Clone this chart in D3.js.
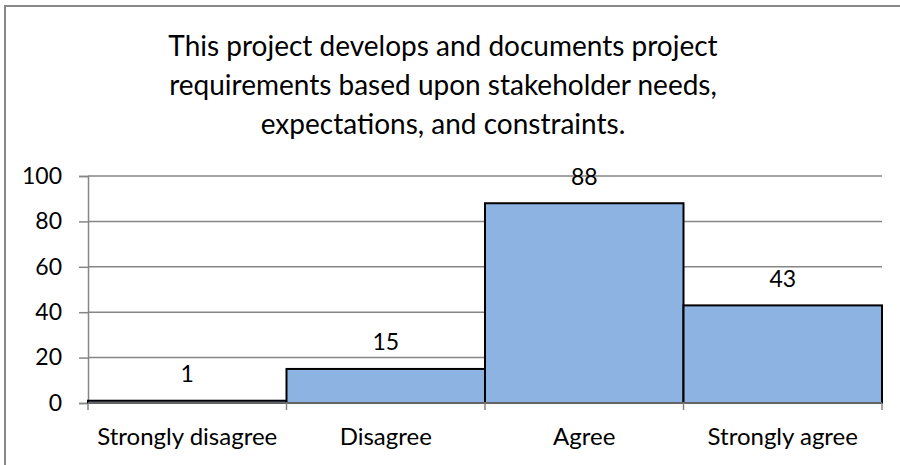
<!DOCTYPE html>
<html>
<head>
<meta charset="utf-8">
<script src="https://cdn.jsdelivr.net/npm/d3@7"></script>
<style>
  body { margin: 0; background: #fff; overflow: hidden; }
  svg { display: block; }
  svg text { font-family: Lato, "Open Sans", sans-serif; fill: #000; }
</style>
</head>
<body>
<svg id="canvas" width="900" height="465"></svg>
<script>
const categories = ['Strongly disagree', 'Disagree', 'Agree', 'Strongly agree'];
const counts = [1, 15, 88, 43];
const yTicks = [0, 20, 40, 60, 80, 100];
const titleLines = [
    'This project develops and documents project',
    'requirements based upon stakeholder needs,',
    'expectations, and constraints.'
];

let canvas = d3.select('#canvas');

const plotLeft = 88, plotRight = 882, plotTop = 176, plotBottom = 403;

const xScale = d3.scaleBand()
    .domain(categories)
    .range([plotLeft, plotRight])
    .paddingInner(0)
    .paddingOuter(0);

const yScale = d3.scaleLinear()
    .domain([0, 100])
    .range([plotBottom, plotTop]);

// chart frame: only the left and top edges show in the picture
canvas.append('path')
    .attr('d', 'M5,465 L5,6 L900,6')
    .attr('fill', 'none')
    .attr('stroke', '#888')
    .attr('stroke-width', 2);

// title
canvas.append('g')
    .selectAll('text')
    .data(titleLines)
    .enter()
    .append('text')
    .attr('x', 443)
    .attr('y', (d, i) => 56 + i * 39)
    .attr('text-anchor', 'middle')
    .style('font-size', '28px')
    .text(d => d);

// gridlines
canvas.append('g')
    .selectAll('line')
    .data(yTicks.filter(d => d > 0))
    .enter()
    .append('line')
    .attr('x1', plotLeft)
    .attr('x2', plotRight)
    .attr('y1', d => yScale(d))
    .attr('y2', d => yScale(d))
    .attr('stroke', '#868686')
    .attr('stroke-width', 1.5);

// y axis
let yAxis = canvas.append('g')
    .attr('transform', 'translate(' + plotLeft + ',0)')
    .call(d3.axisLeft(yScale).tickValues(yTicks).tickSize(9).tickPadding(17));
yAxis.select('.domain').attr('stroke', '#868686').attr('stroke-width', 1.5);
yAxis.selectAll('.tick line').attr('stroke', '#868686').attr('stroke-width', 1.5);
yAxis.selectAll('.tick text').style('font-size', '23px').attr('fill', '#000');

// bars
canvas.append('g')
    .selectAll('rect')
    .data(counts)
    .enter()
    .append('rect')
    .attr('x', (d, i) => xScale(categories[i]))
    .attr('y', d => yScale(d))
    .attr('width', xScale.bandwidth())
    .attr('height', d => yScale(0) - yScale(d))
    .attr('fill', '#8db3e2')
    .attr('stroke', '#000')
    .attr('stroke-width', 2);

// x axis
let xAxis = canvas.append('g')
    .attr('transform', 'translate(0,' + plotBottom + ')');
xAxis.append('line')
    .attr('x1', plotLeft)
    .attr('x2', plotRight)
    .attr('stroke', '#868686')
    .attr('stroke-width', 1.5);
xAxis.selectAll('.tk')
    .data(categories.map(c => xScale(c)).concat([plotRight]))
    .enter()
    .append('line')
    .attr('class', 'tk')
    .attr('x1', d => d)
    .attr('x2', d => d)
    .attr('y1', 0)
    .attr('y2', 7)
    .attr('stroke', '#868686')
    .attr('stroke-width', 1.5);
xAxis.selectAll('text')
    .data(categories)
    .enter()
    .append('text')
    .attr('x', d => xScale(d) + xScale.bandwidth() / 2)
    .attr('y', 42)
    .attr('text-anchor', 'middle')
    .style('font-size', '24px')
    .text(d => d);

// value labels
canvas.append('g')
    .selectAll('text')
    .data(counts)
    .enter()
    .append('text')
    .attr('x', (d, i) => xScale(categories[i]) + xScale.bandwidth() / 2)
    .attr('y', d => yScale(d) - 18.5)
    .attr('text-anchor', 'middle')
    .style('font-size', '23px')
    .text(d => d);
</script>
</body>
</html>
